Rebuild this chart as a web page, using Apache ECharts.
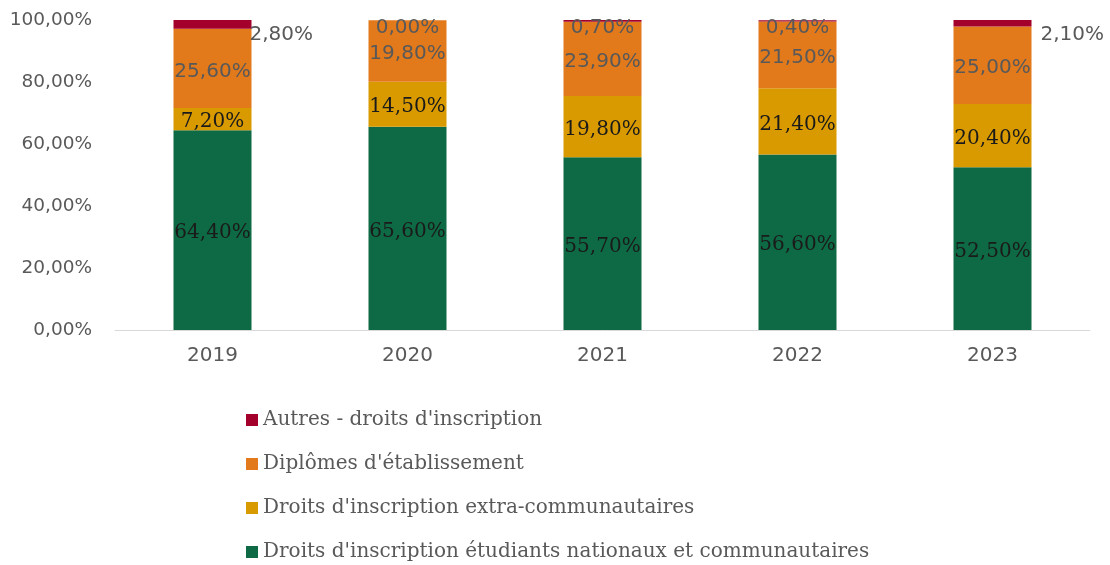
<!DOCTYPE html>
<html>
<head>
<meta charset="utf-8">
<style>
  html, body { margin: 0; padding: 0; background: #ffffff; }
  #chart { width: 1110px; height: 565px; }
</style>
<script src="https://cdn.jsdelivr.net/npm/echarts@6/dist/echarts.min.js"></script>
</head>
<body>
<div id="chart"></div>
<script>
// Revenue shares of tuition fees by year (percent)
const years = ['2019', '2020', '2021', '2022', '2023'];
const nationaux = [64.4, 65.6, 55.7, 56.6, 52.5];
const extraCommunautaires = [7.2, 14.5, 19.8, 21.4, 20.4];
const diplomes = [25.6, 19.8, 23.9, 21.5, 25.0];
const autres = [2.8, 0.0, 0.7, 0.4, 2.1];
const yTicks = [0, 20, 40, 60, 80, 100];

const names = {
  autres: "Autres - droits d'inscription",
  diplomes: "Diplômes d'établissement",
  extra: "Droits d'inscription extra-communautaires",
  nationaux: "Droits d'inscription étudiants nationaux et communautaires"
};

const colors = {
  autres: '#A3002B',
  diplomes: '#E27A1C',
  extra: '#D99A00',
  nationaux: '#0E6A45'
};

const fr = v => v.toFixed(2).replace('.', ',') + '%';

const sansFont = '"DejaVu Sans", Verdana, sans-serif';
const serifFont = '"DejaVu Serif", serif';

function barSeries(key, values, labelColor, labelFont) {
  return {
    name: names[key],
    type: 'bar',
    stack: 'total',
    barWidth: '40%',
    itemStyle: { color: colors[key] },
    data: values,
    label: {
      show: true,
      position: 'inside',
      offset: [0, 3],
      color: labelColor,
      fontFamily: labelFont,
      fontSize: 20,
      formatter: p => fr(p.value)
    }
  };
}

// Top segment: thin shares are labelled just below the bar top,
// thicker ones beside the bar on the right
const autresLabelStyle = [
  { position: 'right', distance: 0, offset: [-2, 10] },
  { position: 'inside', offset: [0, 7] },
  { position: 'inside', offset: [0, 7] },
  { position: 'inside', offset: [0, 7] },
  { position: 'right', distance: 9, offset: [0, 12] }
];
const autresData = autres.map((v, i) => ({ value: v, label: autresLabelStyle[i] }));

const chart = echarts.init(document.getElementById('chart'));
chart.setOption({
  animation: false,
  backgroundColor: '#ffffff',
  grid: { left: 115, right: 20, top: 20, bottom: 235, containLabel: false },
  legend: {
    orient: 'vertical',
    left: 246,
    top: 408,
    padding: 0,
    icon: 'rect',
    itemWidth: 12,
    itemHeight: 12,
    itemGap: 20,
    data: [names.autres, names.diplomes, names.extra, names.nationaux],
    textStyle: {
      fontFamily: serifFont,
      fontSize: 20,
      lineHeight: 24,
      color: '#595959'
    }
  },
  xAxis: {
    type: 'category',
    data: years,
    axisLine: { lineStyle: { color: '#d9d9d9', width: 1 } },
    axisTick: { show: false },
    axisLabel: {
      color: '#595959',
      fontFamily: sansFont,
      fontSize: 20,
      margin: 16
    }
  },
  yAxis: {
    type: 'value',
    min: yTicks[0],
    max: yTicks[yTicks.length - 1],
    interval: yTicks[1] - yTicks[0],
    axisLine: { show: false },
    axisTick: { show: false },
    splitLine: { show: false },
    axisLabel: {
      color: '#595959',
      fontFamily: sansFont,
      fontSize: 18.5,
      margin: 23,
      formatter: v => fr(v)
    }
  },
  series: [
    barSeries('nationaux', nationaux, '#1a1a1a', serifFont),
    barSeries('extra', extraCommunautaires, '#1a1a1a', serifFont),
    barSeries('diplomes', diplomes, '#595959', sansFont),
    barSeries('autres', autresData, '#595959', sansFont)
  ]
});
</script>
</body>
</html>
